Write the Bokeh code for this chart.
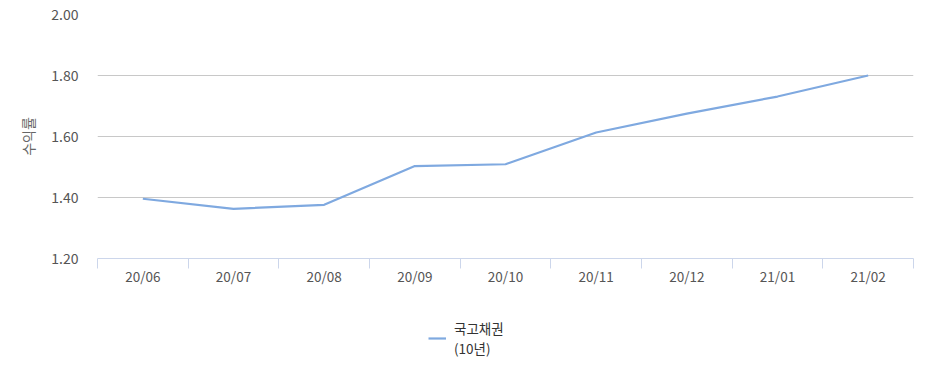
from bokeh.plotting import figure
from bokeh.layouts import column
from bokeh.models import FixedTicker, Range1d, Legend, LegendItem, ColumnDataSource, NumeralTickFormatter
from bokeh.embed import file_html
from bokeh.resources import INLINE

categories = ["20/06", "20/07", "20/08", "20/09", "20/10", "20/11", "20/12", "21/01", "21/02"]
yields_10y = [1.396, 1.363, 1.376, 1.503, 1.509, 1.613, 1.675, 1.731, 1.800]
series_name = "국고채권\n(10년)"
y_ticks = [1.2, 1.4, 1.6, 1.8, 2.0]

FONT = "Noto Sans CJK KR"
LINE_COLOR = "#7fa9e0"

xs = [i + 0.5 for i in range(len(categories))]
src = ColumnDataSource(dict(x=xs, y=yields_10y))

p = figure(width=927, height=300, output_backend="svg", toolbar_location=None,
           x_range=Range1d(0, len(categories)), y_range=Range1d(1.2, 2.0),
           min_border_left=97, min_border_right=14, min_border_top=14, min_border_bottom=42)
p.outline_line_color = None
p.background_fill_color = "white"

r = p.line("x", "y", source=src, line_color=LINE_COLOR, line_width=2.2)

# x axis: labels at centres, boundary ticks as minor ticks
xt = FixedTicker(ticks=xs, minor_ticks=list(range(len(categories) + 1)))
p.xaxis.ticker = xt
p.xaxis.major_label_overrides = {x: c for x, c in zip(xs, categories)}
p.xaxis.major_tick_out = 0
p.xaxis.major_tick_in = 0
p.xaxis.minor_tick_out = 10
p.xaxis.minor_tick_in = 0
p.xaxis.minor_tick_line_color = "#ccd6eb"
p.xaxis.axis_line_color = "#ccd6eb"
p.xaxis.major_label_text_font = FONT
p.xaxis.major_label_text_font_size = "13.5px"
p.xaxis.major_label_text_color = "#555555"
p.xaxis.major_label_standoff = -3
p.xgrid.grid_line_color = None

p.yaxis.ticker = FixedTicker(ticks=y_ticks)
p.yaxis.formatter = NumeralTickFormatter(format="0.00")
p.yaxis.axis_line_color = None
p.yaxis.major_tick_line_color = None
p.yaxis.minor_tick_line_color = None
p.yaxis.major_label_text_font = FONT
p.yaxis.major_label_text_font_size = "14px"
p.yaxis.major_label_text_color = "#555555"
p.yaxis.major_label_standoff = 13
p.yaxis.axis_label = "수익률"
p.yaxis.axis_label_text_font = FONT
p.yaxis.axis_label_text_font_size = "14px"
p.yaxis.axis_label_text_font_style = "normal"
p.yaxis.axis_label_text_color = "#666666"
p.yaxis.axis_label_standoff = 10
p.ygrid.grid_line_color = "#c8c8c8"
p.ygrid.grid_line_width = 1

# legend in a separate strip below (its line sits outside the visible range)
p2 = figure(width=927, height=88, output_backend="svg", toolbar_location=None,
            x_range=Range1d(0, 1), y_range=Range1d(0, 1),
            x_axis_location=None, y_axis_location=None,
            min_border_left=0, min_border_right=0, min_border_top=0, min_border_bottom=0)
p2.grid.visible = False
p2.outline_line_color = None
r2 = p2.line(x=[-2, -1], y=[-2, -2], line_color=LINE_COLOR, line_width=2.2)

legend = Legend(items=[LegendItem(label=series_name, renderers=[r2])],
                location=(331, 30), orientation="horizontal",
                label_text_font=FONT, label_text_font_size="13.5px",
                label_text_color="#333333", border_line_color=None,
                background_fill_alpha=0,
                glyph_width=18, label_standoff=8, margin=0, padding=4)
p2.add_layout(legend, "center")

layout = column(p, p2, spacing=0)
open("out.html", "w").write(file_html(layout, INLINE))
